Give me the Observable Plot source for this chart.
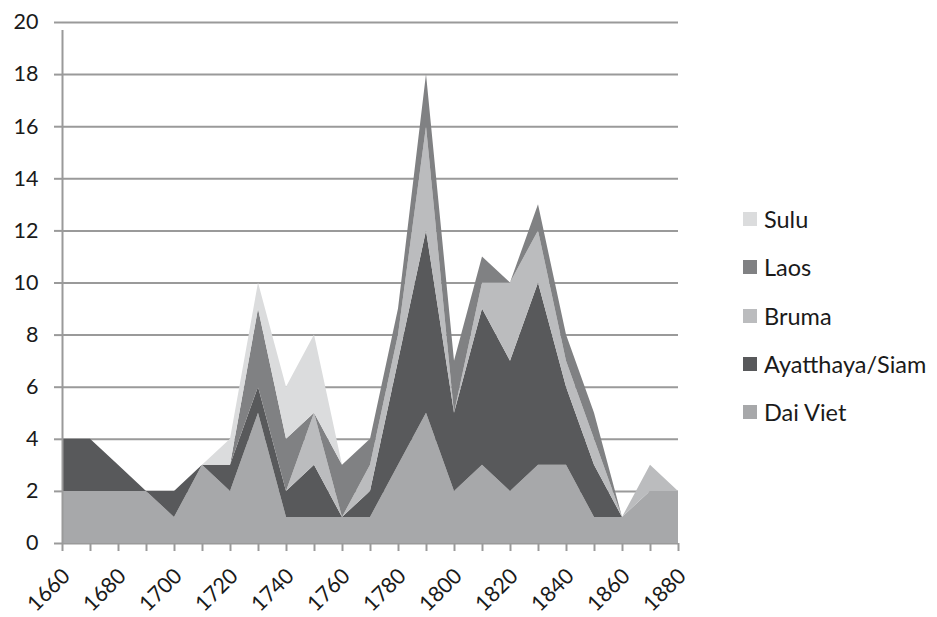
<!DOCTYPE html>
<html>
<head>
<meta charset="utf-8">
<script src="https://cdn.jsdelivr.net/npm/d3@7"></script>
<script src="https://cdn.jsdelivr.net/npm/@observablehq/plot@0.6"></script>
<style>
  html, body { margin: 0; padding: 0; background: #fff; }
  #wrap { position: relative; width: 937px; height: 617px; font-family: Lato, "Open Sans", sans-serif; }
  #legend { position: absolute; left: 743px; top: 195px; }
  .item { display: flex; align-items: center; height: 48.3px; font-size: 23.5px; color: #1a1a1a; }
  .sw { width: 14px; height: 14px; margin-right: 7px; }
</style>
</head>
<body>
<div id="wrap"><div id="chart"></div><div id="legend"></div></div>
<script>
const years = [1660,1670,1680,1690,1700,1710,1720,1730,1740,1750,1760,1770,1780,1790,1800,1810,1820,1830,1840,1850,1860,1870,1880];
const labelYears = [1660,1680,1700,1720,1740,1760,1780,1800,1820,1840,1860,1880];
const yTicks = [0,2,4,6,8,10,12,14,16,18,20];

const series = ["Dai Viet","Ayatthaya/Siam","Bruma","Laos","Sulu"];
const colors = ["#a7a8aa","#58595b","#bbbcbe","#808183","#dbdcdd"];

const daiViet = [2,2,2,2,1,3,2,5,1,1,1,1,3,5,2,3,2,3,3,1,1,2,2];
const siam    = [2,2,1,0,1,0,1,1,1,2,0,1,4,7,3,6,5,7,3,2,0,0,0];
const bruma   = [0,0,0,0,0,0,0,0,0,2,0,1,1,4,0,1,3,2,1,1,0,1,0];
const laos    = [0,0,0,0,0,0,0,3,2,0,2,1,1,2,2,1,0,1,1,1,0,0,0];
const sulu    = [0,0,0,0,0,0,1,1,2,3,0,0,0,0,0,0,0,0,0,0,0,0,0];

const valuesBySeries = [daiViet, siam, bruma, laos, sulu];
const data = years.flatMap((yr, i) => series.map((s, j) => ({year: yr, series: s, value: valuesBySeries[j][i]})));

const gridColor = "#9a9a9a";

const chart = Plot.plot({
  width: 720,
  height: 617,
  marginLeft: 62,
  marginRight: 42,
  marginTop: 22,
  marginBottom: 74,
  style: {fontFamily: "Lato, 'Open Sans', sans-serif", fontSize: "21.5px", color: "#1a1a1a", background: "#fff"},
  x: {domain: [1660, 1880]},
  y: {domain: [0, 20]},
  color: {domain: series, range: colors},
  marks: [
    Plot.ruleY(yTicks, {stroke: gridColor, strokeWidth: 2}),
    Plot.areaY(data, {x: "year", y: "value", fill: "series", order: series, curve: "linear"}),
    Plot.ruleX([1660], {y1: 0, y2: 20, stroke: gridColor, strokeWidth: 2, insetBottom: -8}),
    Plot.axisY({ticks: yTicks, tickSize: 8, tickPadding: 16, stroke: gridColor, strokeWidth: 2, label: null, tickFormat: d => String(d)}),
    Plot.axisX({ticks: years, tickSize: 8, stroke: gridColor, strokeWidth: 2, tickFormat: () => "", label: null}),
    Plot.axisX({ticks: labelYears, tickSize: 0, tickPadding: 16, tickRotate: -45, dx: 4, dy: 13, tickFormat: d => String(d), label: null})
  ]
});
document.getElementById("chart").appendChild(chart);

const legend = document.getElementById("legend");
series.slice().reverse().forEach(s => {
  const row = document.createElement("div");
  row.className = "item";
  const sw = document.createElement("div");
  sw.className = "sw";
  sw.style.background = colors[series.indexOf(s)];
  row.appendChild(sw);
  const t = document.createElement("span");
  t.textContent = s;
  row.appendChild(t);
  legend.appendChild(row);
});
</script>
</body>
</html>
